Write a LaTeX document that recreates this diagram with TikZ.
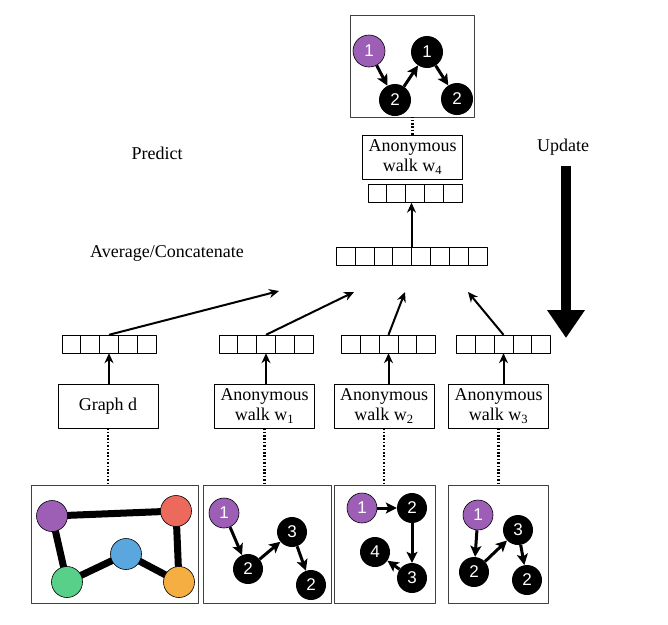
\documentclass[tikz,border=0pt]{standalone}
\usepackage{fontspec}
\setmainfont{Liberation Serif}
\setsansfont{Liberation Sans}
\usetikzlibrary{arrows.meta,calc,backgrounds}
\definecolor{nodepurple}{RGB}{157,95,182}
\definecolor{nodered}{RGB}{236,106,92}
\definecolor{nodeblue}{RGB}{90,166,223}
\definecolor{nodegreen}{RGB}{88,208,138}
\definecolor{nodeorange}{RGB}{244,174,66}
\tikzset{
  lbl/.style={font=\fontsize{18}{20}\selectfont},
  wbox/.style={draw, lbl, align=center, minimum width=100pt, minimum height=44pt, inner sep=1pt},
  vecbox/.style={draw, minimum height=18pt, inner sep=0pt},
  panel/.style={draw=black!75, line width=0.9pt, inner sep=0pt},
  wnode/.style={circle, fill=black, text=white, inner sep=0pt, minimum size=30pt, font=\sffamily\fontsize{17}{17}\selectfont},
  wstart/.style={wnode, fill=nodepurple, draw=black, line width=0.6pt},
  gnode/.style={circle, draw=black, line width=0.6pt, minimum size=31pt, inner sep=0pt},
  walkarr/.style={line width=3pt, -{Stealth[length=11pt,width=11pt,inset=2.5pt]}},
  feed/.style={line width=2pt, -{Stealth[length=10pt,width=9pt]}},
  link/.style={line width=2.2pt, dash pattern=on 1.6pt off 1.8pt},
  gedge/.style={line width=7pt},
}
\newcommand{\cellw}{18.8}
\newcommand{\embvec}[3]{%
  % #1 = node name, #2 = centre coordinate, #3 = number of cells
  \node[vecbox, minimum width=#3*\cellw pt] (#1) at (#2) {};
  \pgfmathtruncatemacro{\lastcell}{#3-1}
  \foreach \k in {1,...,\lastcell}
    \draw ($(#1.north west)+(\k*\cellw,0)$) -- ($(#1.south west)+(\k*\cellw,0)$);
}

\begin{document}
\begin{tikzpicture}[x=1pt, y=-1pt, line join=round]
\useasboundingbox (0,0) rectangle (668,624);

% ============ SIDE LABELS ============
\node[lbl] (predict) at (157,153) {Predict};
\node[lbl] (update) at (563,147) {Update};
\node[lbl] (avgcat) at (167,253) {Average/Concatenate};

% big update arrow
\coordinate (updtop) at (566,166);
\coordinate (updtip) at (566,338);
\draw[line width=10pt, -{Triangle[length=28pt,width=36pt]}] (updtop) -- (updtip);

% ============ TARGET WALK w4 (top) ============
\node[panel, minimum width=124pt, minimum height=102pt] (ptop) at (412,66) {};
\node[wstart, minimum size=32pt] (t1) at (369,51) {1};
\node[wnode, minimum size=32pt] (t2) at (395,100) {2};
\node[wnode, minimum size=32pt] (t3) at (427,52) {1};
\node[wnode, minimum size=32pt] (t4) at (457,99) {2};
\draw[walkarr] (t1) -- (t2);
\draw[walkarr] (t2) -- (t3);
\draw[walkarr] (t3) -- (t4);

\node[wbox] (w4) at (412.5,157) {Anonymous\\walk w\textsubscript{4}};
\draw[link] (w4.north) -- (w4.north |- ptop.south);
\embvec{vw4}{415,193.5}{5}

% ============ AVERAGE / CONCATENATE VECTOR ============
\embvec{vavg}{411.5,256.5}{8}
\draw[feed] (vavg.north) -- (vavg.north |- vw4.south);

% free ends of the arrows pointing to the merged vector
\coordinate (inA) at (279,291);
\coordinate (inB) at (354,292);
\coordinate (inC) at (405,292);
\coordinate (inD) at (468,292);

% ============ INPUT ROW: boxes + vectors ============
\node[wbox] (gd) at (108,406) {Graph d};
\node[wbox] (w1) at (264.5,406) {Anonymous\\walk w\textsubscript{1}};
\node[wbox] (w2) at (384,406) {Anonymous\\walk w\textsubscript{2}};
\node[wbox] (w3) at (498.5,406) {Anonymous\\walk w\textsubscript{3}};

\embvec{vd}{109,344}{5}
\embvec{vw1}{266,344}{5}
\embvec{vw2}{388.5,344}{5}
\embvec{vw3}{503.5,344}{5}

\draw[feed] (gd.north -| vd.south) -- (vd.south);
\draw[feed] (w1.north -| vw1.south) -- (vw1.south);
\draw[feed] (w2.north -| vw2.south) -- (vw2.south);
\draw[feed] (w3.north -| vw3.south) -- (vw3.south);

\draw[feed] (vd.north) -- (inA);
\draw[feed] (vw1.north) -- (inB);
\draw[feed] (vw2.north) -- (inC);
\draw[feed] (vw3.north) -- (inD);

% ============ BOTTOM PANELS ============
\node[panel, minimum width=167pt, minimum height=118pt] (pg) at (114.5,544) {};
\node[panel, minimum width=128pt, minimum height=118pt] (pw1) at (267,544) {};
\node[panel, minimum width=101pt, minimum height=118pt] (pw2) at (384.5,544) {};
\node[panel, minimum width=100pt, minimum height=118pt] (pw3) at (498,544) {};

\draw[link] (gd.south) -- (gd.south |- pg.north);
\draw[link] (w1.south) -- (w1.south |- pw1.north);
\draw[link] (w2.south) -- (w2.south |- pw2.north);
\draw[link] (w3.south) -- (w3.south |- pw3.north);

% graph d
\node[gnode, fill=nodepurple] (ga) at (52,516) {};
\node[gnode, fill=nodered] (gb) at (176,511) {};
\node[gnode, fill=nodeblue] (gc) at (126,554) {};
\node[gnode, fill=nodegreen] (ge) at (67,582) {};
\node[gnode, fill=nodeorange] (gf) at (179,582) {};
\begin{scope}[on background layer]
  \draw[gedge] (ga.center) -- (gb.center);
  \draw[gedge] (ga.center) -- (ge.center);
  \draw[gedge] (ge.center) -- (gc.center);
  \draw[gedge] (gc.center) -- (gf.center);
  \draw[gedge] (gb.center) -- (gf.center);
\end{scope}

% walk w1
\node[wstart] (a1) at (224,513) {1};
\node[wnode] (a2) at (248,569) {2};
\node[wnode] (a3) at (292,532) {3};
\node[wnode] (a4) at (311,585) {2};
\draw[walkarr] (a1) -- (a2);
\draw[walkarr] (a2) -- (a3);
\draw[walkarr] (a3) -- (a4);

% walk w2
\node[wstart] (b1) at (362,508) {1};
\node[wnode] (b2) at (412,508) {2};
\node[wnode] (b3) at (412,578) {3};
\node[wnode] (b4) at (375,552) {4};
\draw[walkarr] (b1) -- (b2);
\draw[walkarr] (b2) -- (b3);
\draw[walkarr] (b3) -- (b4);

% walk w3
\node[wstart] (c1) at (478,515) {1};
\node[wnode] (c2) at (474,572) {2};
\node[wnode] (c3) at (518,530) {3};
\node[wnode] (c4) at (527,580) {2};
\draw[walkarr] (c1) -- (c2);
\draw[walkarr] (c2) -- (c3);
\draw[walkarr] (c3) -- (c4);
\end{tikzpicture}
\end{document}
